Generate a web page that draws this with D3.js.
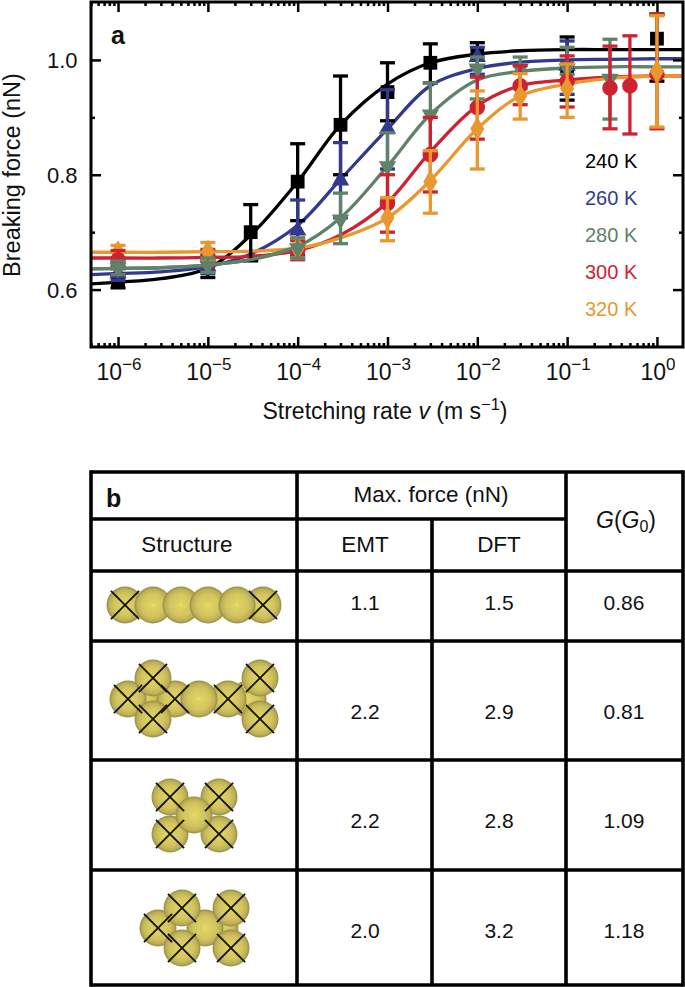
<!DOCTYPE html>
<html><head><meta charset="utf-8">
<script src="https://cdn.jsdelivr.net/npm/d3@7/dist/d3.min.js"></script>
<style>html,body{margin:0;padding:0;background:#fff}svg{display:block}text{font-family:"Liberation Sans",Arial,sans-serif;fill:#111}</style>
</head><body><svg id="c" width="685" height="987"></svg>
<script>
// ---- Panel a data ----
const curveRates=[5e-7,1e-6,3e-6,1e-5,3e-5,1e-4,3e-4,1e-3,3e-3,1e-2,3e-2,1e-1,3e-1,1,2];
const curve240=[.610,.613,.619,.637,.695,.788,.887,.958,.995,1.010,1.016,1.018,1.018,1.018,1.018];
const curve260=[.626,.628,.631,.640,.662,.712,.792,.880,.955,.985,.996,1.000,1.001,1.002,1.002];
const curve280=[.636,.637,.638,.643,.652,.675,.725,.815,.905,.965,.980,.986,.988,.988,.988];
const curve300=[.655,.655,.655,.656,.658,.668,.695,.752,.840,.920,.955,.965,.970,.972,.972];
const curve320=[.665,.665,.665,.666,.667,.672,.690,.725,.790,.880,.937,.958,.968,.972,.972];

const rates240=[1e-6,1e-5,3e-5,1e-4,3e-4,1e-3,3e-3,1e-2,1e-1,1];
const force240=[.613,.637,.700,.788,.887,.944,.995,1.010,.985,1.037];
const upper240=[.625,.650,.748,.854,.972,.995,1.028,1.030,1.040,1.080];
const lower240=[.603,.621,.650,.720,.800,.894,.960,.990,.930,.963];

const rates260=[1e-6,1e-5,1e-4,3e-4,1e-3,1e-2,1e-1];
const force260=[.628,.640,.703,.790,.880,1.005,.990];
const upper260=[.640,.660,.756,.856,.948,1.022,1.033];
const lower260=[.616,.628,.660,.725,.810,.975,.940];

const rates280=[1e-6,1e-5,1e-4,3e-4,1e-3,3e-3,1e-2,3e-2,1e-1,3e-1];
const force280=[.638,.642,.672,.722,.815,.905,.985,.985,.985,.967];
const upper280=[.650,.655,.690,.768,.873,.960,1.005,1.005,1.022,1.036];
const lower280=[.626,.630,.655,.680,.755,.840,.932,.950,.975,.897];

const rates300=[1e-6,1e-5,1e-4,1e-3,3e-3,1e-2,3e-2,1e-1,3e-1,5e-1,1];
const force300=[.652,.655,.668,.750,.835,.917,.955,.963,.951,.955,.975];
const upper300=[.668,.670,.685,.800,.900,.970,.990,1.007,1.024,1.042,1.080];
const lower300=[.636,.640,.652,.700,.770,.862,.922,.918,.880,.871,.880];

const rates320=[1e-6,1e-5,1e-4,1e-3,3e-3,1e-2,3e-2,1e-1,1];
const force320=[.665,.666,.672,.725,.788,.880,.937,.950,.980];
const upper320=[.677,.682,.690,.760,.842,.946,.976,.993,1.077];
const lower320=[.650,.650,.655,.685,.733,.810,.897,.900,.883];

const legendLabels=["240 K","260 K","280 K","300 K","320 K"];
const seriesColors=["#000000","#333a8e","#5f8268","#cf2231","#e8982e"];
const majorRates=[1e-6,1e-5,1e-4,1e-3,1e-2,1e-1,1];
const yMajor=[.6,.8,1.0], yMinor=[.7,.9];

// ---- Panel b data ----
const colStructure="Structure", headMaxForce="Max. force (nN)";
const emtValues=["1.1","2.2","2.2","2.0"];
const dftValues=["1.5","2.9","2.8","3.2"];
const conductance=["0.86","0.81","1.09","1.18"];
// atoms: [x, y, crossed] in pixels relative to the cell centre, back to front
const atoms1=[[-69,0,1],[69,0,1],[-41,0,0],[-13,0,0],[14,0,0],[43,0,0]];
const atoms2=[[-51,0,0],[-66,0,1],[54,0,0],[-19,0,1],[34,0,1],[5,0,0],[-41,-21,1],[-41,20,1],[66,-21,1],[66,20,1]];
const atoms3=[[-25,-18,1],[24,-18,1],[-25,19,1],[24,19,1],[-1,0,0]];
const atoms4=[[25,0,0],[-37,0,1],[10,0,0],[-13,-20,1],[36,-20,1],[-13,20,1],[36,20,1]];
const structures=[atoms1,atoms2,atoms3,atoms4];

// ---- Drawing ----
const svg=d3.select("#c");
const L=91,R=683,T=2,B=347;
const x=d3.scaleLog().domain([5.0e-7,1.95]).range([L,R]);
const y=d3.scaleLinear().domain([.5,1.1]).range([B,T+0.5]);

const series=[
 {i:0,c:curve240,r:rates240,f:force240,u:upper240,l:lower240,sym:d3.symbolSquare,s:190},
 {i:1,c:curve260,r:rates260,f:force260,u:upper260,l:lower260,sym:d3.symbolTriangle,s:130,rot:0},
 {i:2,c:curve280,r:rates280,f:force280,u:upper280,l:lower280,sym:d3.symbolTriangle,s:130,rot:180},
 {i:3,c:curve300,r:rates300,f:force300,u:upper300,l:lower300,sym:d3.symbolCircle,s:190},
 {i:4,c:curve320,r:rates320,f:force320,u:upper320,l:lower320,sym:d3.symbolDiamond,s:170}
];

const line=d3.line().x(d=>x(d[0])).y(d=>y(d[1])).curve(d3.curveCatmullRom.alpha(0.5));
const defs=svg.append("defs");
defs.append("clipPath").attr("id","plot").append("rect").attr("x",L).attr("y",T).attr("width",R-L).attr("height",B-T);
const g=svg.append("g").attr("clip-path","url(#plot)");

function marks(s,keep){
  const col=seriesColors[s.i];
  const pts=s.r.map((r,k)=>({r,f:s.f[k],u:s.u[k],l:s.l[k]})).filter(keep);
  const e=g.append("g").attr("stroke",col).attr("stroke-width",3.3).attr("fill","none");
  pts.forEach(p=>{
    const px=x(p.r);
    e.append("line").attr("x1",px).attr("x2",px).attr("y1",y(p.u)).attr("y2",y(p.l));
    [p.u,p.l].forEach(v=>e.append("line").attr("x1",px-7.5).attr("x2",px+7.5).attr("y1",y(v)).attr("y2",y(v)));
    g.append("path").attr("d",d3.symbol().type(s.sym).size(s.s)())
      .attr("fill",col)
      .attr("transform",`translate(${px},${y(p.f)}) rotate(${s.rot||0})`);
  });
}
// curves
[0,1,3,4,2].forEach(i=>{
  const s=series[i];
  g.append("path").datum(curveRates.map((r,k)=>[r,s.c[k]])).attr("d",line)
    .attr("fill","none").attr("stroke",seriesColors[i]).attr("stroke-width",3.3);
});
// stacking of the marks differs along the axis in the reference
[0,1,4,3,2].forEach(i=>marks(series[i],p=>p.r<=1e-6));
[0,1,3,4,2].forEach(i=>marks(series[i],p=>p.r>1e-6&&p.r<=3e-4));
[0,1,2,3,4].forEach(i=>marks(series[i],p=>p.r>3e-4));
// green curve runs over the low-rate marks
(function(){const s=series[2];
  g.append("path").datum(curveRates.map((r,k)=>[r,s.c[k]]).filter(d=>d[0]<=1e-4)).attr("d",line)
   .attr("fill","none").attr("stroke",seriesColors[2]).attr("stroke-width",3.3);})();

// axes
const minorRates=[];
majorRates.forEach(m=>d3.range(2,10).forEach(k=>{const v=m*k; if(v<=x.domain()[1]) minorRates.push(v);}));
[5e-7,6e-7,7e-7,8e-7,9e-7].forEach(v=>minorRates.push(v));
function styleAxis(sel){sel.select(".domain").remove();sel.selectAll("line").attr("stroke","#000").attr("stroke-width",2.5);}
svg.append("g").attr("transform",`translate(0,${B})`).call(d3.axisTop(x).tickValues(minorRates).tickSize(4).tickFormat("")).call(styleAxis);
svg.append("g").attr("transform",`translate(0,${T})`).call(d3.axisBottom(x).tickValues(minorRates).tickSize(4).tickFormat("")).call(styleAxis);
svg.append("g").attr("transform",`translate(0,${T})`).call(d3.axisBottom(x).tickValues(majorRates).tickSize(10).tickFormat("")).call(styleAxis);
const xAxis=svg.append("g").attr("transform",`translate(0,${B})`).call(d3.axisTop(x).tickValues(majorRates).tickSize(10).tickFormat("")).call(styleAxis);
xAxis.selectAll("text").remove();
svg.append("g").selectAll("text").data(majorRates).join("text")
  .attr("x",d=>x(d)+1).attr("y",380).attr("text-anchor","middle").attr("font-size",23)
  .each(function(d){const t=d3.select(this);
    t.append("tspan").text("10");
    t.append("tspan").attr("dy",-10).attr("font-size",17).text(String(Math.round(Math.log10(d))).replace("-","\u2212"));
  });
[[L,0],[R,1]].forEach(([px,right])=>{
  const mk=right?d3.axisLeft:d3.axisRight;
  svg.append("g").attr("transform",`translate(${px},0)`).call(mk(y).tickValues(yMajor).tickSize(10).tickFormat("")).call(styleAxis);
  svg.append("g").attr("transform",`translate(${px},0)`).call(mk(y).tickValues(yMinor).tickSize(4).tickFormat("")).call(styleAxis);
});
svg.append("rect").attr("x",L).attr("y",T).attr("width",R-L).attr("height",B-T).attr("fill","none").attr("stroke","#000").attr("stroke-width",3);
svg.append("g").selectAll("text").data(yMajor).join("text").attr("x",77.5).attr("y",d=>y(d)+8.5)
  .attr("text-anchor","end").attr("font-size",22).text(d=>d.toFixed(1));
svg.append("text").attr("transform","translate(20,175) rotate(-90)").attr("text-anchor","middle").attr("font-size",23.5).text("Breaking force (nN)");
const xt=svg.append("text").attr("x",385).attr("y",419).attr("text-anchor","middle").attr("font-size",23);
xt.append("tspan").text("Stretching rate ");
xt.append("tspan").attr("font-style","italic").text("v");
xt.append("tspan").text(" (m s");
xt.append("tspan").attr("dy",-9).attr("font-size",16.5).text("\u22121");
xt.append("tspan").attr("dy",9).text(")");
svg.append("text").attr("x",111).attr("y",44).attr("font-size",25).attr("font-weight","bold").text("a");
svg.append("g").selectAll("text").data(legendLabels).join("text")
  .attr("x",585).attr("y",(d,i)=>168+i*37).attr("font-size",20)
  .style("fill",(d,i)=>seriesColors[i]).text(d=>d);

// table
const cols=[91,297,432,566,683], rows=[472,519,571,641,760,870,985];
const tb=svg.append("g").attr("stroke","#000").attr("stroke-width",3.6);
function ln(a,b,c,d){tb.append("line").attr("x1",a).attr("y1",b).attr("x2",c).attr("y2",d);}
ln(cols[0],rows[0],cols[4],rows[0]);
ln(cols[0],rows[1],cols[3],rows[1]);
rows.slice(2).forEach(r=>ln(cols[0],r,cols[4],r));
ln(cols[0],rows[0]-1.8,cols[0],rows[6]+1.8);
ln(cols[1],rows[0],cols[1],rows[6]);
ln(cols[2],rows[1],cols[2],rows[6]);
ln(cols[3],rows[0],cols[3],rows[6]);
ln(cols[4],rows[0]-1.8,cols[4],rows[6]+1.8);
function tx(px,py,s,o){return svg.append("text").attr("x",px).attr("y",py).attr("text-anchor",(o&&o.a)||"middle").attr("font-size",(o&&o.f)||21).text(s);}
tx(106,507,"b",{f:25}).attr("font-weight","bold").attr("text-anchor","start");
tx(431,502,headMaxForce,{f:22.5});
tx(187,552,colStructure,{f:22.5});
tx(365,552,"EMT",{f:22.5});tx(499,552,"DFT",{f:22.5});
const gt=svg.append("text").attr("x",626).attr("y",528).attr("text-anchor","middle").attr("font-size",23);
gt.append("tspan").attr("font-style","italic").text("G");
gt.append("tspan").text("(");
gt.append("tspan").attr("font-style","italic").text("G");
gt.append("tspan").attr("dy",4).attr("font-size",16).text("0");
gt.append("tspan").attr("dy",-4).text(")");
const rowBase=[610,719,828,938];
emtValues.forEach((v,i)=>tx(365,rowBase[i],v));
dftValues.forEach((v,i)=>tx(499,rowBase[i],v));
conductance.forEach((v,i)=>tx(624,rowBase[i],v));

// structures
const grad=defs.append("radialGradient").attr("id","gold").attr("cx","50%").attr("cy","50%").attr("r","50%");
[[0,"#f2e668"],[.1,"#e0d262"],[.6,"#d2c55f"],[.85,"#bdb056"],[1,"#968c44"]].forEach(([o,c])=>grad.append("stop").attr("offset",o).attr("stop-color",c));
const centres=[[194,605],[194,699],[195,815],[195,928]];
const atomR=18.5;
structures.forEach((atoms,i)=>{
  const gg=svg.append("g").attr("transform",`translate(${centres[i][0]},${centres[i][1]})`);
  atoms.forEach(a=>{
    gg.append("circle").attr("cx",a[0]).attr("cy",a[1]).attr("r",atomR).attr("fill","url(#gold)");
  });
  atoms.filter(a=>a[2]).forEach(a=>{
    const d=atomR*.76;
    [[1,1],[1,-1]].forEach(([p,q])=>gg.append("line").attr("x1",a[0]-d*p).attr("y1",a[1]-d*q).attr("x2",a[0]+d*p).attr("y2",a[1]+d*q).attr("stroke","#111").attr("stroke-width",1.8));
  });
});
</script></body></html>
